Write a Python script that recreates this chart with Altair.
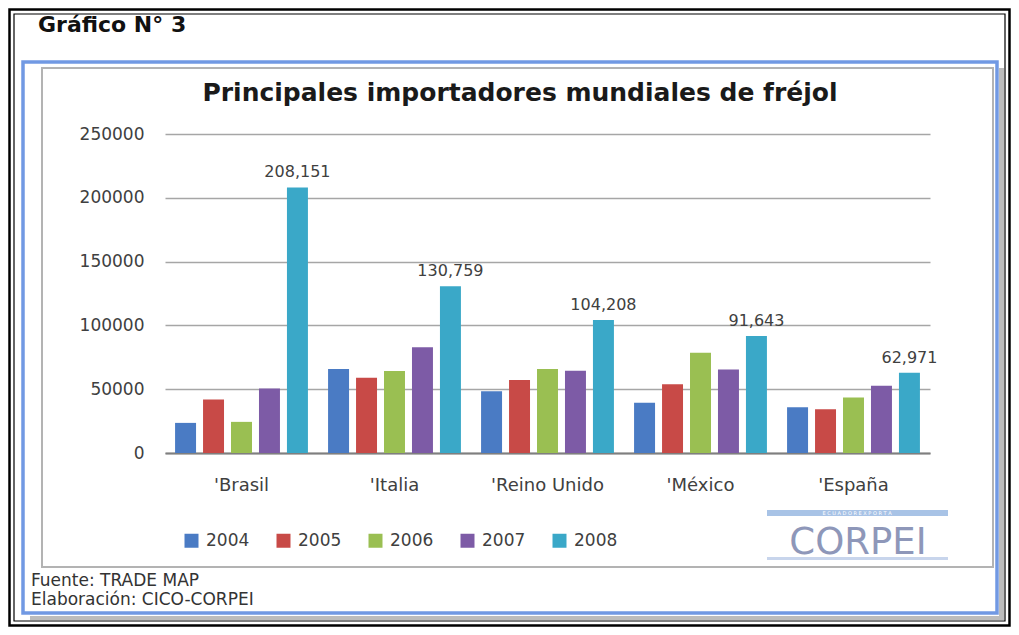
import altair as alt
import pandas as pd

countries = ["'Brasil", "'Italia", "'Reino Unido", "'México", "'España"]
years = ["2004", "2005", "2006", "2007", "2008"]
v2004 = [23600, 65800, 48400, 39300, 35900]
v2005 = [41900, 59000, 57300, 53800, 34300]
v2006 = [24400, 64200, 65900, 78600, 43400]
v2007 = [50500, 82900, 64500, 65500, 52800]
v2008 = [208151, 130759, 104208, 91643, 62971]
colors = ["#4a7bc4", "#c84a47", "#9abf52", "#7d5ba6", "#3aa8c8"]
y_ticks = [0, 50000, 100000, 150000, 200000, 250000]

title_text = "Principales importadores mundiales de fréjol"
figure_label = "Gráfico N° 3"
source_lines = ["Fuente: TRADE MAP", "Elaboración: CICO-CORPEI"]

rows = []
for yr, vals in zip(years, [v2004, v2005, v2006, v2007, v2008]):
    for c, v in zip(countries, vals):
        rows.append({"country": c, "year": yr, "value": v})
df = pd.DataFrame(rows)

FONT = "DejaVu Sans"
one = pd.DataFrame({"k": [0]})


def frame(x1, x2, y1, y2, **kw):
    return alt.Chart(one).mark_rect(**kw).encode(
        x=alt.value(x1), x2=alt.value(x2), y=alt.value(y1), y2=alt.value(y2)
    )


def txt(text, x, y, baseline="alphabetic", **kw):
    return alt.Chart(one).mark_text(text=text, font=FONT, baseline=baseline, **kw).encode(
        x=alt.value(x), y=alt.value(y)
    )


x_enc = alt.X(
    "country:N",
    scale=alt.Scale(domain=countries, paddingInner=0, paddingOuter=0),
    axis=alt.Axis(
        title=None, labelAngle=0, ticks=False, domain=True,
        domainColor="#7f7f7f", domainWidth=2, labelPadding=23,
        labelFont=FONT, labelFontSize=18, labelColor="#404040", grid=False,
    ),
)
y_enc = alt.Y(
    "value:Q",
    scale=alt.Scale(domain=[0, 250000], nice=False),
    axis=alt.Axis(
        title=None, values=y_ticks, format="d", grid=True,
        gridColor="#a6a6a6", gridWidth=1.5, domain=False, ticks=False,
        labelPadding=21, labelFont=FONT, labelFontSize=17, labelColor="#404040",
    ),
)
xoff = alt.XOffset(
    "year:N", scale=alt.Scale(domain=years, paddingInner=0.25, paddingOuter=0.36)
)

bars = alt.Chart(df).mark_bar().encode(
    x=x_enc,
    y=y_enc,
    xOffset=xoff,
    color=alt.Color(
        "year:N",
        scale=alt.Scale(domain=years, range=colors),
        legend=alt.Legend(
            title=None, orient="none", legendX=18, legendY=398,
            direction="horizontal", symbolType="square", symbolSize=196,
            symbolStrokeWidth=0, labelFont=FONT, labelFontSize=17,
            labelColor="#404040", labelOffset=6, columnPadding=25, padding=0,
        ),
    ),
)

values = alt.Chart(df).transform_filter(alt.datum.year == "2008").mark_text(
    font=FONT, fontSize=16, color="#404040", dy=-10, baseline="alphabetic"
).encode(
    x=alt.X("country:N"),
    xOffset=alt.XOffset("year:N"),
    y=alt.Y("value:Q"),
    text=alt.Text("value:Q", format=","),
)

layers = [
    # outer double black border
    frame(-155.5, 844.5, -124.5, 491.5, fillOpacity=0, stroke="#000000", strokeWidth=2.5),
    frame(-151, 840, -120, 487, fillOpacity=0, stroke="#000000", strokeWidth=1.2),
    # shadow of the blue frame
    frame(834, 839, -66, 486, color="#bcbcbc"),
    frame(-135, 839, 482, 486, color="#bcbcbc"),
    # blue frame and inner grey frame
    frame(-142, 832, -72, 479, fillOpacity=0, stroke="#7199e3", strokeWidth=3.5),
    frame(-123, 828, -66, 433, fillOpacity=0, stroke="#b3b3b3", strokeWidth=2),
    bars,
    values,
    txt(figure_label, -127, -102, fontSize=22, fontWeight="bold", color="#111111", align="left"),
    txt(title_text, 355, -33, fontSize=25, fontWeight="bold", color="#1a1a1a", align="center"),
    txt(source_lines[0], -134, 452, fontSize=17, color="#333333", align="left"),
    txt(source_lines[1], -134, 471, fontSize=17, color="#333333", align="left"),
    # CORPEI logo
    frame(602, 783, 376, 382, color="#a8c3e6"),
    txt("E C U A D O R     E X P O R T A", 692, 379, baseline="middle", fontSize=5,
        color="#ffffff", align="center"),
    txt("CORPEI", 693, 420, fontSize=37, color="#8e97b9", align="center"),
    frame(602, 783, 423, 426, color="#c8d5ec"),
]

chart = alt.layer(*layers).properties(
    width=765,
    height=319,
    autosize=alt.AutoSizeParams(type="none"),
    padding={"left": 157, "top": 126, "right": 81, "bottom": 174},
    background="white",
).configure_view(strokeOpacity=0)

chart.save("out.html", embed_options={"renderer": "svg", "actions": False})
